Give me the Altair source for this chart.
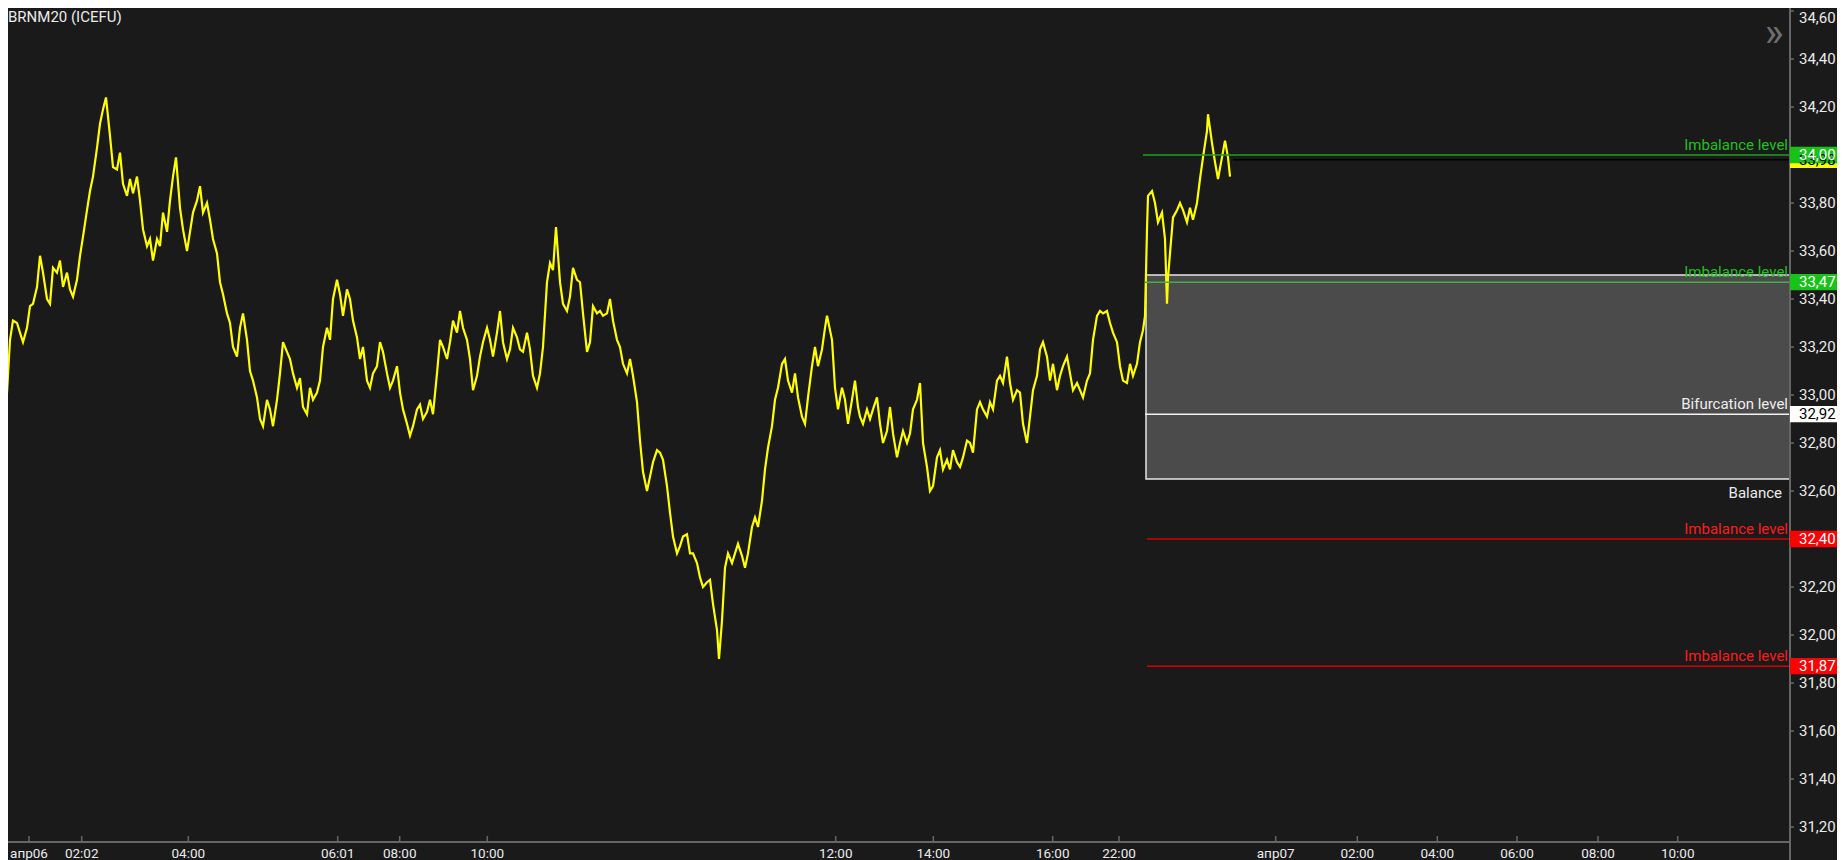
import altair as alt
import pandas as pd

TITLE = "BRNM20 (ICEFU)"

# bar position (horizontal slot on the compressed session axis) and price
BAR = [
    7, 10, 13, 17, 20, 23, 27, 30, 33, 37,
    40, 43, 47, 50, 53, 57, 60, 63, 67, 70,
    73, 77, 80, 83, 87, 90, 93, 97, 100, 103,
    106, 110, 113, 117, 120, 123, 127, 130, 133, 137,
    140, 143, 147, 150, 153, 157, 160, 163, 167, 170,
    173, 176, 180, 183, 187, 190, 193, 197, 200, 203,
    207, 210, 213, 217, 220, 223, 227, 230, 233, 237,
    240, 243, 247, 250, 253, 257, 260, 263, 267, 270,
    273, 277, 280, 283, 287, 290, 293, 297, 300, 303,
    307, 310, 313, 317, 320, 323, 327, 330, 333, 337,
    340, 343, 347, 350, 353, 357, 360, 363, 367, 370,
    373, 377, 380, 383, 387, 390, 393, 397, 400, 403,
    407, 410, 413, 417, 420, 423, 427, 430, 433, 437,
    440, 443, 447, 450, 453, 457, 460, 463, 467, 470,
    473, 477, 480, 483, 487, 490, 493, 497, 500, 503,
    507, 510, 513, 517, 520, 523, 527, 530, 533, 537,
    540, 543, 547, 550, 553, 556, 560, 563, 567, 570,
    573, 577, 580, 583, 587, 590, 593, 597, 600, 603,
    607, 610, 613, 617, 620, 623, 627, 630, 633, 637,
    640, 643, 647, 650, 653, 657, 660, 663, 667, 670,
    673, 677, 680, 683, 687, 690, 693, 697, 700, 703,
    707, 710, 713, 717, 719, 722, 725, 728, 732, 735,
    738, 742, 745, 748, 752, 755, 758, 762, 765, 768,
    772, 775, 778, 782, 785, 788, 792, 795, 798, 802,
    805, 808, 812, 815, 818, 822, 825, 827, 832, 835,
    838, 842, 845, 848, 852, 855, 858, 860, 863, 867,
    870, 873, 877, 880, 883, 887, 890, 893, 897, 900,
    903, 907, 910, 913, 917, 920, 923, 927, 930, 933,
    937, 940, 943, 947, 950, 953, 957, 960, 963, 967,
    970, 973, 977, 980, 983, 987, 990, 993, 997, 1000,
    1003, 1007, 1010, 1013, 1017, 1020, 1023, 1027, 1030, 1033,
    1037, 1040, 1043, 1047, 1050, 1053, 1057, 1060, 1063, 1067,
    1070, 1073, 1077, 1080, 1083, 1087, 1090, 1093, 1097, 1100,
    1103, 1107, 1110, 1113, 1117, 1120, 1123, 1127, 1130, 1133,
    1137, 1140, 1143, 1145, 1147, 1148, 1152, 1155, 1158, 1162,
    1165, 1167, 1168, 1170, 1173, 1177, 1180, 1183, 1187, 1190,
    1193, 1197, 1200, 1203, 1207, 1208, 1212, 1215, 1218, 1222,
    1225, 1228, 1230,
]
PRICE = [
    33.01, 33.23, 33.31, 33.30, 33.26, 33.22, 33.28, 33.37, 33.38, 33.45,
    33.58, 33.51, 33.40, 33.38, 33.53, 33.51, 33.56, 33.45, 33.51, 33.44,
    33.41, 33.48, 33.58, 33.66, 33.77, 33.85, 33.91, 34.03, 34.13, 34.19,
    34.24, 34.08, 33.95, 33.94, 34.01, 33.88, 33.83, 33.90, 33.84, 33.91,
    33.81, 33.69, 33.62, 33.65, 33.56, 33.65, 33.62, 33.76, 33.68, 33.81,
    33.91, 33.99, 33.78, 33.69, 33.60, 33.68, 33.76, 33.81, 33.87, 33.76,
    33.80, 33.73, 33.65, 33.59, 33.47, 33.42, 33.34, 33.30, 33.20, 33.16,
    33.28, 33.34, 33.23, 33.10, 33.06, 32.99, 32.90, 32.87, 32.98, 32.94,
    32.87, 32.98, 33.09, 33.22, 33.18, 33.15, 33.09, 33.03, 33.07, 32.95,
    32.92, 33.03, 32.98, 33.01, 33.06, 33.20, 33.28, 33.23, 33.40, 33.48,
    33.42, 33.33, 33.44, 33.40, 33.31, 33.24, 33.15, 33.20, 33.06, 33.03,
    33.09, 33.12, 33.22, 33.18, 33.09, 33.03, 33.06, 33.12, 33.01, 32.94,
    32.88, 32.83, 32.87, 32.94, 32.96, 32.90, 32.93, 32.98, 32.92, 33.09,
    33.23, 33.20, 33.15, 33.22, 33.31, 33.26, 33.35, 33.28, 33.23, 33.15,
    33.02, 33.08, 33.16, 33.22, 33.28, 33.23, 33.16, 33.26, 33.35, 33.22,
    33.15, 33.19, 33.28, 33.24, 33.19, 33.18, 33.26, 33.19, 33.08, 33.03,
    33.09, 33.20, 33.47, 33.55, 33.52, 33.70, 33.47, 33.38, 33.35, 33.41,
    33.53, 33.48, 33.47, 33.34, 33.18, 33.22, 33.37, 33.34, 33.35, 33.33,
    33.34, 33.40, 33.31, 33.23, 33.20, 33.13, 33.09, 33.15, 33.08, 32.97,
    32.81, 32.68, 32.60, 32.66, 32.72, 32.77, 32.76, 32.73, 32.62, 32.51,
    32.41, 32.34, 32.37, 32.41, 32.42, 32.34, 32.34, 32.30, 32.24, 32.20,
    32.22, 32.23, 32.13, 32.02, 31.90, 32.06, 32.28, 32.34, 32.30, 32.34,
    32.38, 32.33, 32.28, 32.34, 32.45, 32.49, 32.45, 32.56, 32.69, 32.78,
    32.87, 32.98, 33.03, 33.13, 33.15, 33.06, 33.01, 33.09, 32.99, 32.91,
    32.88, 32.99, 33.12, 33.20, 33.12, 33.19, 33.28, 33.33, 33.23, 33.03,
    32.94, 33.03, 32.98, 32.88, 32.98, 33.06, 32.95, 32.91, 32.88, 32.94,
    32.90, 32.94, 32.99, 32.88, 32.80, 32.85, 32.95, 32.84, 32.74, 32.80,
    32.85, 32.80, 32.84, 32.94, 32.98, 33.05, 32.80, 32.70, 32.60, 32.62,
    32.74, 32.77, 32.69, 32.73, 32.69, 32.77, 32.72, 32.70, 32.74, 32.81,
    32.80, 32.76, 32.94, 32.97, 32.94, 32.91, 32.97, 32.94, 33.06, 33.08,
    33.05, 33.16, 33.05, 32.98, 33.02, 33.01, 32.88, 32.80, 32.91, 33.02,
    33.08, 33.19, 33.22, 33.16, 33.06, 33.13, 33.02, 33.08, 33.12, 33.16,
    33.09, 33.02, 33.05, 33.02, 32.99, 33.06, 33.09, 33.23, 33.33, 33.35,
    33.34, 33.35, 33.30, 33.26, 33.22, 33.12, 33.06, 33.05, 33.13, 33.08,
    33.13, 33.22, 33.27, 33.33, 33.69, 33.83, 33.85, 33.80, 33.72, 33.76,
    33.65, 33.38, 33.49, 33.59, 33.74, 33.77, 33.80, 33.77, 33.72, 33.78,
    33.73, 33.80, 33.90, 33.99, 34.10, 34.17, 34.05, 33.97, 33.90, 33.99,
    34.06, 33.99, 33.91,
]

X_TICKS = [29, 81.7, 188.3, 337.7, 399.7, 487.3, 835.7, 933.3, 1052.7, 1119,
           1275.7, 1357.3, 1437.3, 1517, 1598, 1677.7]
X_LABELS = ["апр06", "02:02", "04:00", "06:01", "08:00", "10:00", "12:00", "14:00",
            "16:00", "22:00", "апр07", "02:00", "04:00", "06:00", "08:00", "10:00"]
Y_TICKS = [31.2, 31.4, 31.6, 31.8, 32.0, 32.2, 32.4, 32.6, 32.8, 33.0,
           33.2, 33.4, 33.6, 33.8, 34.0, 34.2, 34.4, 34.6]

LEVEL_NAMES = ["Imbalance level", "Imbalance level", "Bifurcation level",
               "Imbalance level", "Imbalance level"]
LEVEL_VALUES = [34.00, 33.47, 32.92, 32.40, 31.87]
LEVEL_START = [1143, 1145, 1145, 1147, 1147]
LEVEL_LINE_COLORS = ["#1c9f1c", "#47ad47", "#f2f2f2", "#d40000", "#d40000"]
LEVEL_TEXT_COLORS = ["#1fc01f", "#1fc01f", "#eeeeee", "#ff1a1a", "#ff1a1a"]

ZONE_NAME = "Balance"
ZONE_LOW = 32.65
ZONE_HIGH = 33.50
ZONE_START = 1146

LAST_PRICE = 33.98
LAST_START = 1233

TAG_VALUES = [33.98, 34.00, 33.47, 32.92, 32.40, 31.87]
TAG_BG = ["#ffff00", "#19c219", "#19c219", "#ffffff", "#ff0000", "#ff0000"]
TAG_FG = ["#000000", "#ffffff", "#ffffff", "#000000", "#ffffff", "#ffffff"]

X_MIN, X_MAX = 8, 1790
Y_MIN, Y_MAX = 31.1375, 34.6125
W, H = 1782, 834
RIGHT = 47
BOTTOM = 18
LABEL_END = 1788

BG = "#1a1a1a"
AXC = "#666666"
TXT = "#eaeaea"
FONT = "Roboto"

xs = alt.Scale(domain=[X_MIN, X_MAX], nice=False, zero=False)
ys = alt.Scale(domain=[Y_MIN, Y_MAX], nice=False, zero=False)

price_df = pd.DataFrame({"bar": BAR, "price": PRICE})
level_df = pd.DataFrame({
    "name": LEVEL_NAMES, "value": LEVEL_VALUES, "start": LEVEL_START,
    "end": [X_MAX] * len(LEVEL_VALUES), "lx": [LABEL_END] * len(LEVEL_VALUES),
    "lc": LEVEL_LINE_COLORS, "tc": LEVEL_TEXT_COLORS,
})
zone_df = pd.DataFrame({"name": [ZONE_NAME], "low": [ZONE_LOW], "high": [ZONE_HIGH],
                        "start": [ZONE_START], "end": [X_MAX], "lx": [X_MAX - 8]})
last_df = pd.DataFrame({"value": [LAST_PRICE], "start": [LAST_START], "end": [X_MAX]})
xtick_df = pd.DataFrame({"tick": X_TICKS, "label": X_LABELS})
ytick_df = pd.DataFrame({"v": Y_TICKS})
tag_df = pd.DataFrame({"value": TAG_VALUES, "bg": TAG_BG, "fg": TAG_FG})
one_df = pd.DataFrame({"t": [TITLE]})

X = lambda f: alt.X(f, scale=xs, axis=None)
Y = lambda f: alt.Y(f, scale=ys, axis=None)

# axes drawn as marks
x_domain = alt.Chart(one_df).mark_rule(color=AXC, strokeWidth=2).encode(
    x=alt.value(0), x2=alt.value(W), y=alt.value(H))
y_domain = alt.Chart(one_df).mark_rule(color=AXC, strokeWidth=2).encode(
    x=alt.value(W), y=alt.value(0), y2=alt.value(H + BOTTOM))
x_ticks = alt.Chart(xtick_df).mark_rule(color=AXC, strokeWidth=1.5).encode(
    x=X("tick:Q"), y=alt.value(H - 6), y2=alt.value(H))
x_labels = alt.Chart(xtick_df).mark_text(
    align="center", baseline="top", fontSize=13.5, font=FONT, color=TXT, dy=5).encode(
    x=X("tick:Q"), y=alt.value(H), text="label:N")
y_ticks = alt.Chart(ytick_df).mark_rule(color=AXC, strokeWidth=1.5).encode(
    x=alt.value(W), x2=alt.value(W + 4), y=Y("v:Q"))
y_labels = alt.Chart(ytick_df).transform_calculate(
    label="replace(format(datum.v, '.2f'), '.', ',')",
    vy="min(datum.v, %r)" % (Y_MAX - 0.04),
).mark_text(align="left", baseline="middle", fontSize=15, font=FONT, color=TXT).encode(
    x=alt.value(W + 9), y=Y("vy:Q"), text="label:N")

zone = alt.Chart(zone_df).mark_rect(fill="#4b4b4b", stroke="#e6e6e6", strokeWidth=1.5).encode(
    x=X("start:Q"), x2="end:Q", y=Y("low:Q"), y2="high:Q")

line = alt.Chart(price_df).mark_line(color="#ffff00", strokeWidth=2.2, clip=True).encode(
    x=X("bar:Q"), y=Y("price:Q"))

level_rules = alt.Chart(level_df).mark_rule(strokeWidth=1.5).encode(
    x=X("start:Q"), x2="end:Q", y=Y("value:Q"),
    color=alt.Color("lc:N", scale=None))

level_text = alt.Chart(level_df).mark_text(
    align="right", baseline="alphabetic", dy=-5, fontSize=15, font=FONT).encode(
    x=X("lx:Q"), y=Y("value:Q"), text="name:N", color=alt.Color("tc:N", scale=None))

zone_text = alt.Chart(zone_df).mark_text(
    align="right", baseline="middle", dy=14, fontSize=15, font=FONT, color=TXT).encode(
    x=X("lx:Q"), y=Y("low:Q"), text="name:N")

last_rule = alt.Chart(last_df).mark_rule(color="#000000", strokeWidth=1.5).encode(
    x=X("start:Q"), x2="end:Q", y=Y("value:Q"))

tags = alt.Chart(tag_df).transform_calculate(
    top="datum.value + 0.034", bot="datum.value - 0.034"
).mark_rect().encode(
    x=alt.value(W), x2=alt.value(W + RIGHT),
    y=Y("top:Q"), y2="bot:Q", color=alt.Color("bg:N", scale=None))

tag_text = alt.Chart(tag_df).transform_calculate(
    label="replace(format(datum.value, '.2f'), '.', ',')"
).mark_text(align="left", baseline="middle", fontSize=15, font=FONT).encode(
    x=alt.value(W + 9), y=Y("value:Q"), text="label:N",
    color=alt.Color("fg:N", scale=None))

title = alt.Chart(one_df).mark_text(
    align="left", baseline="alphabetic", fontSize=15, font=FONT, color=TXT).encode(
    x=alt.value(0), y=alt.value(14), text="t:N")

chevron = alt.Chart(one_df).mark_text(
    align="center", baseline="middle", fontSize=40, font=FONT, color="#6e6e6e").encode(
    x=alt.value(1766), y=alt.value(26), text=alt.value("»"))

chart = alt.layer(
    zone, line, level_rules, level_text, zone_text, last_rule,
    x_domain, y_domain, x_ticks, x_labels, y_ticks, y_labels,
    tags, tag_text, title, chevron
).properties(
    width=W, height=H,
    autosize=alt.AutoSizeParams(type="none"),
    padding={"left": 0, "top": 0, "right": RIGHT, "bottom": BOTTOM},
    background=BG,
).configure(font=FONT).configure_view(stroke=None)

chart.save("out.html", embed_options={"renderer": "svg", "actions": False})
